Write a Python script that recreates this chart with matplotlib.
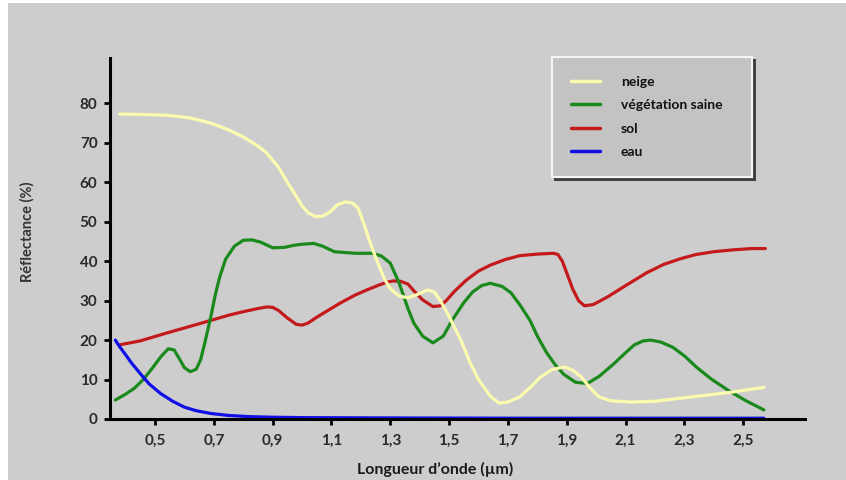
import matplotlib
matplotlib.use("Agg")
import matplotlib.pyplot as plt
from matplotlib.patches import Rectangle

# values (wavelength in um, reflectance in %)
neige_x = [0.38, 0.45, 0.54, 0.62, 0.69, 0.75, 0.80, 0.85, 0.88, 0.92, 0.95, 0.98, 1.00,
           1.02, 1.045, 1.07, 1.095, 1.12, 1.146, 1.17, 1.19, 1.21, 1.23, 1.255, 1.28,
           1.30, 1.33, 1.36, 1.39, 1.425, 1.45, 1.47, 1.50, 1.54, 1.57, 1.60, 1.64,
           1.67, 1.70, 1.74, 1.78, 1.81, 1.85, 1.89, 1.92, 1.95, 1.98, 2.01, 2.05,
           2.12, 2.20, 2.29, 2.37, 2.46, 2.55, 2.57]
neige_y = [77.3, 77.2, 77.0, 76.3, 75.0, 73.3, 71.5, 69.2, 67.4, 63.8, 60.0, 56.5, 54.0,
           52.3, 51.3, 51.4, 52.5, 54.3, 55.0, 54.8, 53.5, 49.5, 45.0, 40.0, 35.5,
           33.0, 31.2, 30.7, 31.5, 32.7, 32.2, 30.0, 26.0, 20.0, 14.5, 10.0, 5.8,
           4.0, 4.3, 5.6, 8.3, 10.6, 12.5, 13.2, 12.4, 10.6, 7.8, 5.6, 4.6,
           4.3, 4.5, 5.3, 6.0, 6.8, 7.8, 8.0]

vege_x = [0.365, 0.40, 0.43, 0.46, 0.49, 0.52, 0.545, 0.565, 0.585, 0.60, 0.62, 0.64,
          0.655, 0.67, 0.69, 0.705, 0.72, 0.74, 0.77, 0.80, 0.83, 0.86, 0.90, 0.94,
          0.97, 1.00, 1.04, 1.07, 1.11, 1.18, 1.24, 1.27, 1.30, 1.33, 1.36, 1.38,
          1.41, 1.445, 1.48, 1.51, 1.55, 1.58, 1.61, 1.64, 1.68, 1.71, 1.74, 1.775,
          1.80, 1.83, 1.86, 1.89, 1.93, 1.97, 2.01, 2.06, 2.10, 2.13, 2.16, 2.185,
          2.22, 2.26, 2.30, 2.34, 2.39, 2.45, 2.51, 2.57]
vege_y = [4.8, 6.3, 7.8, 10.0, 12.8, 15.8, 17.8, 17.5, 15.0, 13.0, 12.0, 12.6,
          15.0, 19.5, 26.0, 31.5, 36.0, 40.5, 43.8, 45.3, 45.4, 44.8, 43.4, 43.5,
          44.0, 44.3, 44.5, 43.8, 42.4, 42.0, 42.0, 41.3, 39.5, 34.5, 28.0, 24.3,
          21.0, 19.3, 21.0, 25.0, 29.5, 32.2, 33.8, 34.4, 33.6, 32.0, 29.0, 25.0,
          21.0, 17.0, 13.8, 11.3, 9.3, 9.0, 10.8, 14.0, 16.8, 18.8, 19.8, 20.0,
          19.5, 18.2, 16.0, 13.2, 10.2, 7.2, 4.6, 2.3]

sol_x = [0.38, 0.45, 0.54, 0.62, 0.69, 0.75, 0.80, 0.85, 0.88, 0.90, 0.92, 0.95, 0.98,
         1.00, 1.02, 1.05, 1.09, 1.13, 1.18, 1.22, 1.26, 1.29, 1.31, 1.335, 1.36,
         1.38, 1.41, 1.445, 1.47, 1.49, 1.52, 1.56, 1.60, 1.64, 1.69, 1.74, 1.80,
         1.855, 1.87, 1.885, 1.90, 1.92, 1.94, 1.96, 1.99, 2.04, 2.10, 2.17, 2.23,
         2.29, 2.34, 2.40, 2.47, 2.53, 2.575]
sol_y = [18.8, 19.8, 21.8, 23.5, 25.0, 26.3, 27.2, 28.0, 28.4, 28.3, 27.5, 25.6, 24.0,
         23.8, 24.3, 25.8, 27.6, 29.4, 31.4, 32.7, 33.9, 34.7, 35.0, 34.9, 34.2,
         32.5, 30.2, 28.5, 28.7, 30.0, 32.5, 35.3, 37.5, 39.0, 40.4, 41.4, 41.8,
         42.0, 41.7, 40.0, 37.0, 33.0, 30.0, 28.7, 29.0, 31.0, 33.8, 37.0, 39.2,
         40.7, 41.7, 42.4, 42.9, 43.2, 43.2]

eau_x = [0.365, 0.38, 0.40, 0.42, 0.45, 0.48, 0.52, 0.56, 0.60, 0.64, 0.69, 0.75, 0.82,
         0.90, 1.00, 1.20, 1.40, 1.60, 1.80, 2.00, 2.20, 2.40, 2.57]
eau_y = [20.0, 18.3, 16.3, 14.2, 11.5, 8.9, 6.4, 4.5, 3.0, 2.1, 1.4, 0.9, 0.6,
         0.45, 0.35, 0.3, 0.25, 0.22, 0.2, 0.2, 0.2, 0.2, 0.2]

series_names = ["neige", "végétation saine", "sol", "eau"]
series_colors = ["#fbfbb0", "#1b8a1d", "#c41a1c", "#1010e6"]

x_ticks = [0.5, 0.7, 0.9, 1.1, 1.3, 1.5, 1.7, 1.9, 2.1, 2.3, 2.5]
x_tick_labels = ["0,5", "0,7", "0,9", "1,1", "1,3", "1,5", "1,7", "1,9", "2,1", "2,3", "2,5"]
y_ticks = [0, 10, 20, 30, 40, 50, 60, 70, 80]

plt.rcParams["font.family"] = ["Lato", "DejaVu Sans"]
plt.rcParams["font.weight"] = "bold"

fig = plt.figure(figsize=(8.46, 4.8), dpi=100, facecolor="white")
# grey panel, thin white strip on the left and top like the reference
fig.patches.append(Rectangle((8 / 846, 0), 1, 477 / 480, transform=fig.transFigure,
                             facecolor="#cdcdcd", edgecolor="none", zorder=-10))

ax = fig.add_axes([110 / 846, 61 / 480, 695 / 846, 361 / 480])
ax.patch.set_alpha(0)

data = [(neige_x, neige_y), (vege_x, vege_y), (sol_x, sol_y), (eau_x, eau_y)]
order = [2, 1, 0, 3]  # draw order: sol, vegetation, neige, eau on top
lines = [None] * 4
for i in order:
    xs, ys = data[i]
    lines[i], = ax.plot(xs, ys, color=series_colors[i], lw=2.3,
                        solid_capstyle="round", solid_joinstyle="round",
                        label=series_names[i])

ax.set_xlim(0.347, 2.71)
ax.set_ylim(0, 91.5)
ax.set_xticks(x_ticks)
ax.set_xticklabels(x_tick_labels)
ax.set_yticks(y_ticks)

for side in ["top", "right"]:
    ax.spines[side].set_visible(False)
for side in ["left", "bottom"]:
    ax.spines[side].set_linewidth(2.2)
    ax.spines[side].set_color("black")
ax.tick_params(axis="both", direction="out", length=4, width=2, color="black",
               labelsize=11, labelcolor="#2a2a2a")
ax.tick_params(axis="x", pad=7)
ax.tick_params(axis="y", pad=5)

ax.set_xlabel("Longueur d’onde (µm)", fontsize=11.5, fontweight="bold", color="#1a1a1a")
ax.xaxis.set_label_coords(0.468, -0.118)
ax.set_ylabel("Réflectance (%)", fontsize=10.5, fontweight="bold", color="#333333")
ax.yaxis.set_label_coords(-0.108, 0.52)

leg = ax.legend(handles=lines, labels=series_names, loc="upper left",
                bbox_to_anchor=(0.636, 0.68, 0.288, 0.323), mode="expand",
                fontsize=10, frameon=True, fancybox=False,
                facecolor="#c3c3c3", edgecolor="#f4f4f4", framealpha=1,
                shadow={"color": "#3a3a3a", "alpha": 0.9},
                borderpad=1.35, labelspacing=0.83, handlelength=2.1,
                handletextpad=1.5, borderaxespad=0)
leg.get_frame().set_linewidth(1.5)
for t in leg.get_texts():
    t.set_fontweight("bold")
    t.set_color("#111111")
for h in leg.legend_handles:
    h.set_linewidth(2.5)

fig.savefig("out.png", dpi=100, facecolor=fig.get_facecolor())
